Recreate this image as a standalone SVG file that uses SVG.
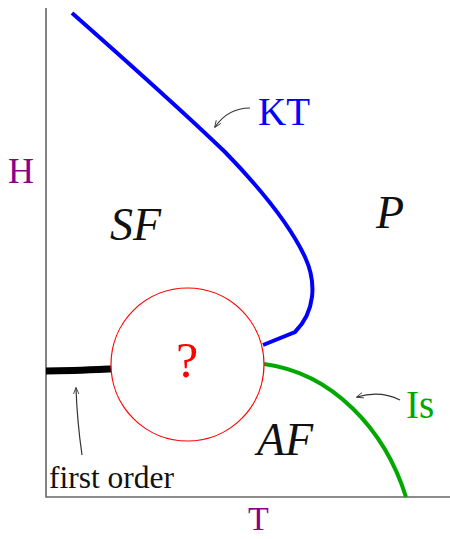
<svg xmlns="http://www.w3.org/2000/svg" width="450" height="539" viewBox="0 0 450 539">
<defs>
<marker id="ah" viewBox="0 0 10 10" refX="9" refY="5" markerWidth="7" markerHeight="7" orient="auto" markerUnits="userSpaceOnUse">
<path d="M0,1 L10,5 L0,9" fill="none" stroke="#333" stroke-width="1.2"/>
</marker>
<style>
text{font-family:"Liberation Serif","Times New Roman",serif}
.lab{font-size:39px}
.it{font-style:italic;font-size:46px;fill:#111}
.ax{fill:#8b008b;font-size:36px}
.ptr{fill:none;stroke:#333;stroke-width:1.2}
</style>
</defs>
<g id="axes">
<path d="M46,8 L46,497 L450,497" fill="none" stroke="#666" stroke-width="1.6"/>
<text class="ax" x="8" y="183">H</text>
<text class="ax" x="248" y="530" style="font-size:34px">T</text>
</g>
<g id="connectors">
<path id="kt-line" d="M72,13 C140,73 200,128 225,152 C260,188 290,225 305,257 C317,283 315,312 295,332 L263,345" fill="none" stroke="#0000ff" stroke-width="4"/>
<path id="is-line" d="M264,364 C333,373 385,430 406,497" fill="none" stroke="#00a800" stroke-width="4"/>
<path id="first-order-line" d="M46,371 C70,371 90,370 111,369" fill="none" stroke="#000" stroke-width="7"/>
<path d="M250,108 Q228,108 215,127" class="ptr" marker-end="url(#ah)"/>
<path d="M400,400 Q380,390 357,397" class="ptr" marker-end="url(#ah)"/>
<path d="M82,455 Q77,420 76,388" class="ptr" marker-end="url(#ah)"/>
</g>
<g id="critical-region">
<circle cx="187.5" cy="364.5" r="76.5" fill="none" stroke="#ff0000" stroke-width="1.2"/>
<text x="187" y="377" font-size="50" fill="#ff0000" text-anchor="middle">?</text>
</g>
<g id="labels">
<text class="lab" x="258" y="125" fill="#0000ff">KT</text>
<text class="lab" x="406" y="418" fill="#00a800">Is</text>
<text class="it" x="110" y="240">SF</text>
<text class="it" x="376" y="228">P</text>
<text class="it" x="257" y="455">AF</text>
<text x="49" y="488" font-size="31.5" fill="#111">first order</text>
</g>
</svg>
